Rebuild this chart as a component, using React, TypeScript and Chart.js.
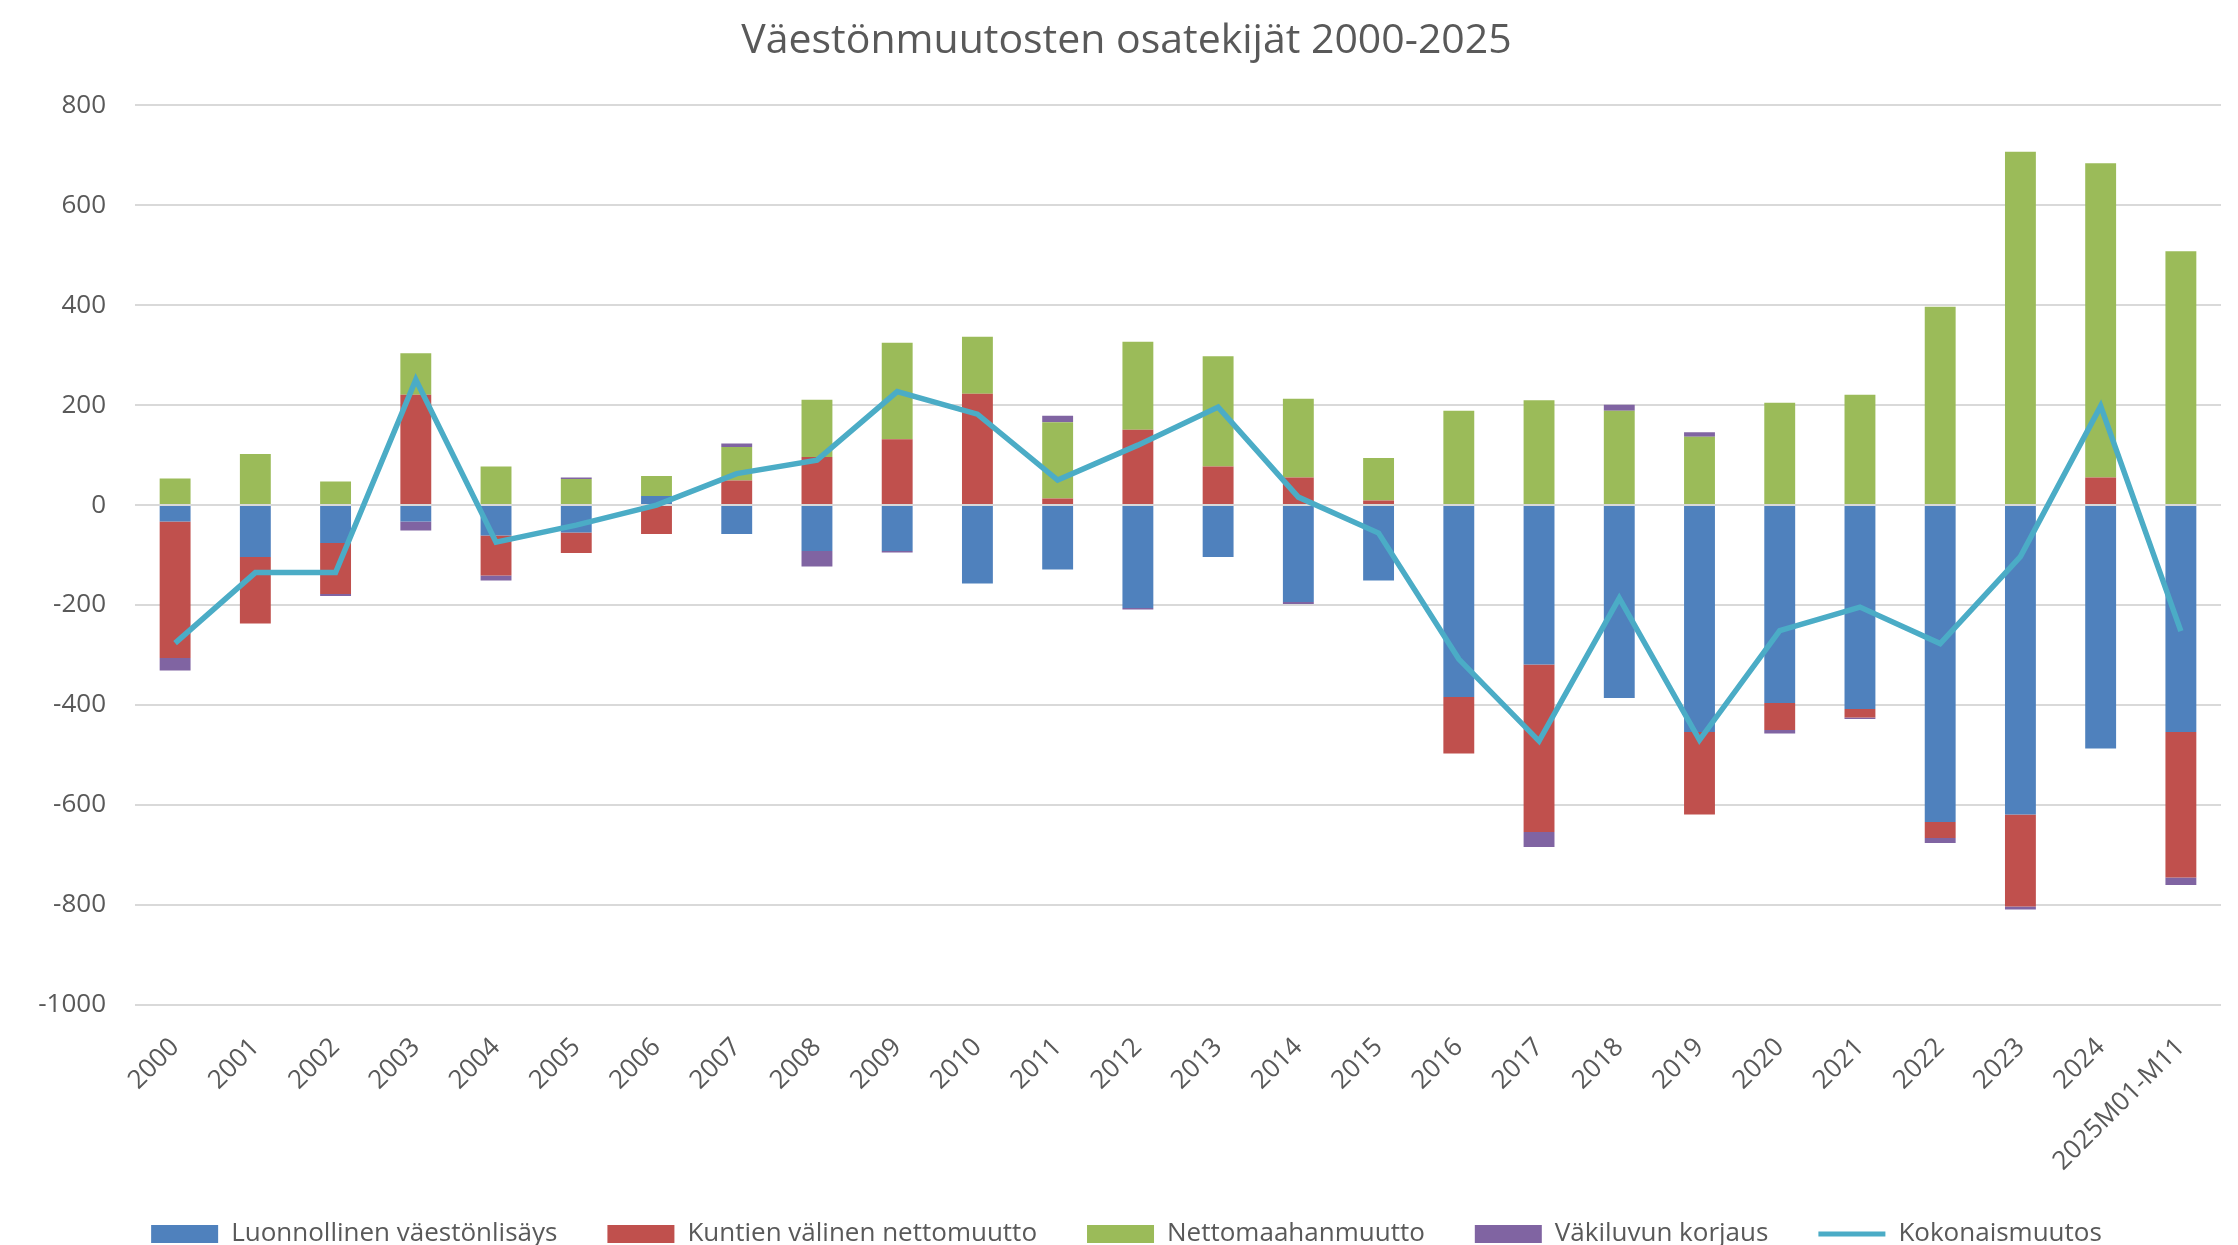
import { useEffect, useRef } from 'react';
import { Chart, registerables } from 'chart.js';

Chart.register(...registerables);

const categories = [
  '2000', '2001', '2002', '2003', '2004', '2005', '2006', '2007', '2008', '2009',
  '2010', '2011', '2012', '2013', '2014', '2015', '2016', '2017', '2018', '2019',
  '2020', '2021', '2022', '2023', '2024', '2025M01-M11',
];

const luonnollinen = [
  -33, -104, -76, -33, -61, -55, 18, -58, -92, -92,
  -157, -129, -206, -104, -194, -151, -384, -319, -386, -454,
  -396, -408, -634, -619, -487, -454,
];

const kuntienValinen = [
  -273, -133, -102, 221, -80, -41, -58, 49, 96, 132,
  223, 13, 151, 77, 55, 9, -113, -335, 0, -165,
  -54, -17, -32, -184, 55, -291,
];

const nettomaahanmuutto = [
  53, 102, 47, 83, 77, 52, 40, 67, 115, 193,
  114, 153, 176, 221, 158, 85, 189, 210, 189, 137,
  205, 221, 397, 707, 629, 508,
];

const korjaus = [
  -25, 0, -4, -18, -10, 3, 0, 7, -31, -3,
  0, 13, -3, 0, -4, 0, 0, -30, 12, 9,
  -7, -3, -10, -6, 0, -15,
];

const kokonaismuutos = [
  -276, -135, -135, 251, -74, -40, 0, 63, 90, 227,
  182, 50, 120, 196, 16, -56, -308, -472, -186, -470,
  -251, -204, -277, -103, 198, -252,
];

const seriesNames = [
  'Luonnollinen väestönlisäys',
  'Kuntien välinen nettomuutto',
  'Nettomaahanmuutto',
  'Väkiluvun korjaus',
  'Kokonaismuutos',
];

const titleText = 'Väestönmuutosten osatekijät 2000-2025';
const yMin = -1000;
const yMax = 800;
const yStep = 200;

const COLORS = ['#4F81BD', '#C0504D', '#9BBB59', '#8064A2', '#4BACC6'];
const FONT = "'Open Sans', 'DejaVu Sans', sans-serif";
const TEXT = '#595959';

export default function App() {
  const ref = useRef<HTMLCanvasElement>(null);

  useEffect(() => {
    if (!ref.current) return;
    const barSeries = [luonnollinen, kuntienValinen, nettomaahanmuutto, korjaus];
    const chart = new Chart(ref.current, {
      type: 'bar',
      data: {
        labels: categories,
        datasets: [
          ...barSeries.map((data, i) => ({
            type: 'bar' as const,
            label: seriesNames[i],
            data,
            backgroundColor: COLORS[i],
            borderWidth: 0,
            stack: 'parts',
            categoryPercentage: 1,
            barPercentage: 0.385,
            order: 1,
          })),
          {
            type: 'line' as const,
            label: seriesNames[4],
            data: kokonaismuutos,
            borderColor: COLORS[4],
            backgroundColor: COLORS[4],
            borderWidth: 5.5,
            pointRadius: 0,
            tension: 0,
            stack: 'total',
            order: 0,
          },
        ],
      },
      options: {
        responsive: false,
        animation: false,
        devicePixelRatio: 1,
        layout: { padding: { left: 32, right: 17, top: 0, bottom: 0 } },
        plugins: {
          title: {
            display: true,
            text: titleText,
            color: TEXT,
            font: { family: FONT, size: 41, weight: 'normal' },
            padding: { top: 17, bottom: 39 },
          },
          legend: {
            position: 'bottom',
            labels: {
              color: TEXT,
              font: { family: FONT, size: 26 },
              padding: 50,
              usePointStyle: true,
              pointStyleWidth: 67,
              boxHeight: 18,
              generateLabels: (c: any) =>
                c.data.datasets.map((ds: any, i: number) => ({
                  text: ds.label,
                  fillStyle: COLORS[i],
                  strokeStyle: COLORS[i],
                  lineWidth: ds.type === 'line' ? 5 : 0,
                  pointStyle: ds.type === 'line' ? 'line' : 'rect',
                  hidden: false,
                  datasetIndex: i,
                  fontColor: TEXT,
                })),
            },
          },
          tooltip: { enabled: false },
        },
        scales: {
          x: {
            stacked: true,
            grid: { display: false },
            border: { display: false },
            ticks: {
              color: TEXT,
              font: { family: FONT, size: 26 },
              minRotation: 45,
              maxRotation: 45,
              autoSkip: false,
              padding: 19,
            },
            afterFit: (scale: any) => {
              scale.height = 166;
            },
          },
          y: {
            stacked: true,
            min: yMin,
            max: yMax,
            border: { display: false },
            grid: { color: '#D9D9D9', lineWidth: 2, drawTicks: false },
            ticks: {
              stepSize: yStep,
              color: TEXT,
              font: { family: FONT, size: 26 },
              padding: 29,
              callback: (v: any) => String(v),
            },
            afterFit: (scale: any) => {
              scale.width = 103;
            },
          },
        },
      },
    });
    return () => chart.destroy();
  }, []);

  return (
    <div
      style={{
        position: 'fixed',
        left: 0,
        top: 0,
        width: 2238,
        height: 1245,
        overflow: 'hidden',
        background: '#ffffff',
      }}
    >
      <canvas
        ref={ref}
        width={2238}
        height={1257}
        style={{ display: 'block', width: 2238, height: 1257 }}
      />
    </div>
  );
}
